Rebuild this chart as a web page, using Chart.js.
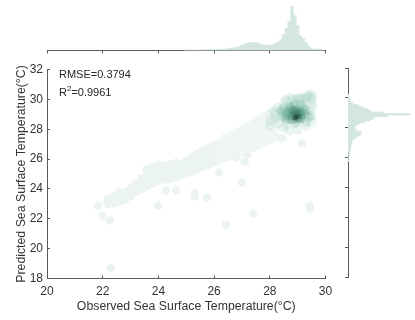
<!DOCTYPE html>
<html>
<head>
<meta charset="utf-8">
<style>
  html, body { margin: 0; padding: 0; background: #fff; }
  canvas { position: absolute; }
  .note { position: absolute; left: 59px; font: 11px "Liberation Sans", sans-serif; color: #262626; white-space: nowrap; }
  .note sup { font-size: 8px; line-height: 0; }
</style>
<script src="https://cdn.jsdelivr.net/npm/chart.js@4"></script>
</head>
<body>
<canvas id="top-hist" width="415" height="62" style="left:0;top:0"></canvas>
<canvas id="main" width="415" height="320" style="left:0;top:0"></canvas>
<canvas id="right-hist" width="75" height="320" style="left:340px;top:0"></canvas>
<div class="note" style="top:68px">RMSE=0.3794</div>
<div class="note" style="top:86px">R<sup>2</sup>=0.9961</div>
<script>
const xTicks = [20, 22, 24, 26, 28, 30];
const yTicks = [18, 20, 22, 24, 26, 28, 30, 32];

// band of pale points, one column per x
const bandX = [22.2, 22.4, 22.6, 22.8, 23.0, 23.2, 23.4, 23.6, 23.8, 24.0, 24.2, 24.4, 24.6, 24.8, 25.0, 25.2, 25.4, 25.6, 25.8, 26.0, 26.2, 26.4, 26.6, 26.8, 27.0, 27.2, 27.4, 27.6, 27.8, 28.0, 28.2];
const bandTop = [23.3, 23.5, 23.75, 23.75, 24.0, 24.3, 24.7, 25.3, 25.45, 25.55, 25.55, 25.6, 25.7, 25.65, 25.85, 26.1, 26.3, 26.55, 26.7, 26.9, 27.05, 27.4, 27.55, 27.75, 27.95, 28.15, 28.35, 28.6, 28.85, 29.05, 29.2];
const bandUpper = [23.2, 23.35, 23.55, 23.6, 23.85, 24.15, 24.5, 24.95, 25.1, 25.2, 25.25, 25.3, 25.4, 25.4, 25.6, 25.8, 26.0, 26.2, 26.35, 26.55, 26.7, 27.0, 27.1, 27.3, 27.5, 27.7, 27.85, 28.1, 28.3, 28.5, 28.7];
const bandLower = [23.1, 23.2, 23.35, 23.45, 23.7, 24.0, 24.25, 24.6, 24.75, 24.9, 24.95, 25.0, 25.1, 25.15, 25.35, 25.5, 25.7, 25.85, 26.0, 26.2, 26.35, 26.55, 26.65, 26.85, 27.0, 27.2, 27.35, 27.55, 27.75, 27.95, 28.15];
const bandBottom = [23.0, 23.05, 23.15, 23.3, 23.55, 23.85, 24.0, 24.2, 24.4, 24.55, 24.65, 24.7, 24.8, 24.95, 25.1, 25.2, 25.35, 25.5, 25.65, 25.8, 25.95, 26.1, 26.2, 26.35, 26.5, 26.65, 26.8, 26.95, 27.15, 27.3, 27.5];

// stray points away from the band
const strayX = [21.83, 22.0, 22.26, 22.3, 23.99, 24.27, 24.63, 25.3, 25.31, 25.74, 26.18, 27.0, 27.1, 27.4, 26.43, 29.44, 29.44, 29.15, 28.44, 27.2, 26.8];
const strayY = [22.89, 22.2, 21.88, 18.67, 22.89, 23.89, 23.89, 23.7, 23.5, 23.43, 25.1, 24.43, 25.84, 22.35, 21.6, 22.89, 22.69, 27.04, 27.38, 26.3, 26.1];

// density tiers around the core
const lightX = [28.6, 28.8, 29.0, 29.2, 29.4, 29.5, 29.5, 29.3, 29.1, 28.9, 28.7, 28.4, 28.2, 28.2, 28.3, 28.5, 28.7, 29.0, 29.3, 29.5, 29.4, 29.2, 28.6, 28.4, 28.9, 29.3, 29.1, 28.5, 28.3, 28.1, 28.0, 28.0, 29.55, 29.45, 29.35, 29.55, 28.75, 28.55, 29.25, 29.05];
const lightY = [29.9, 30.0, 30.0, 30.1, 30.2, 30.0, 29.7, 29.8, 29.7, 29.6, 29.5, 29.3, 29.0, 28.7, 28.4, 28.1, 27.9, 27.95, 28.2, 28.5, 29.2, 29.5, 28.3, 28.8, 30.0, 30.1, 30.05, 29.6, 29.5, 29.2, 28.6, 28.2, 30.2, 30.35, 30.25, 29.5, 30.1, 30.0, 29.95, 30.15];
const midX = [28.4, 28.5, 28.5, 28.6, 28.6, 28.7, 28.7, 28.8, 28.8, 28.9, 28.9, 29.0, 29.0, 29.1, 29.1, 29.2, 29.2, 29.3, 29.3, 29.4, 29.5, 28.8, 29.0, 29.1, 28.9, 29.0, 28.7, 28.6, 28.8, 29.1, 29.2, 28.9, 29.0, 28.7, 29.3, 28.5, 29.0, 28.9, 29.1, 28.8, 28.75, 28.85, 28.95, 29.05, 29.15, 29.25, 28.65, 28.55];
const midY = [29.2, 29.4, 28.9, 29.2, 28.6, 29.5, 28.9, 29.3, 28.6, 29.7, 28.9, 29.4, 28.5, 29.1, 28.7, 29.4, 28.8, 29.0, 28.5, 28.8, 28.9, 29.0, 29.2, 28.9, 28.4, 28.8, 29.2, 28.9, 29.5, 29.6, 29.1, 29.1, 29.0, 28.7, 29.3, 29.1, 28.7, 28.7, 29.2, 28.9, 29.4, 29.25, 29.15, 29.05, 28.95, 29.2, 29.05, 28.75];
const darkX = [28.8, 28.9, 28.9, 29.0, 29.0, 29.1, 29.1, 28.8, 29.0, 28.9, 29.0, 28.8];
const darkY = [29.2, 29.3, 28.9, 29.1, 28.8, 29.0, 28.7, 28.9, 28.85, 29.1, 29.0, 28.7];
const coreX = [28.95, 29.0, 28.9];
const coreY = [28.8, 28.85, 28.75];

// marginal histograms, bin centres and counts read in axis pixels
const topBins = [25.0, 25.1, 25.2, 25.3, 25.4, 25.5, 25.6, 25.7, 25.8, 25.9, 26.0, 26.1, 26.2, 26.3, 26.4, 26.5, 26.6, 26.7, 26.8, 26.9, 27.0, 27.1, 27.2, 27.3, 27.4, 27.5, 27.6, 27.7, 27.8, 27.9, 28.0, 28.1, 28.2, 28.3, 28.4, 28.5, 28.6, 28.7, 28.8, 28.9, 29.0, 29.1, 29.2, 29.3, 29.4, 29.5, 29.6, 29.7, 29.8, 29.9];
const topCounts = [0.5, 0.5, 0.5, 0.5, 0.5, 0.5, 1, 1, 1, 1, 1, 1, 1, 1.5, 1.5, 2, 2.5, 2.5, 3.5, 4, 5, 6, 7.5, 8, 8, 8, 7, 6, 5.5, 5.5, 5.5, 6, 7, 8.5, 11, 16, 22, 29, 44, 35, 25, 15, 12, 8, 4, 2, 1.5, 1.5, 1.5, 0.5];
const rightBins = [30.2, 30.1, 30.0, 29.9, 29.8, 29.7, 29.6, 29.5, 29.4, 29.3, 29.2, 29.1, 29.0, 28.9, 28.8, 28.7, 28.6, 28.5, 28.4, 28.3, 28.2, 28.1, 28.0, 27.9, 27.8, 27.7, 27.6, 27.5, 27.4, 27.3, 27.2, 27.1, 27.0, 26.9, 26.8, 26.7, 26.6, 26.5, 26.4, 26.2, 26.0, 25.8];
const rightCounts = [0.5, 1, 1.5, 2, 2.5, 3, 5, 10, 13, 17, 20, 23, 35, 62, 40, 27, 25, 22, 17, 12, 9, 7, 7, 7, 9, 13, 13, 12, 9, 7, 5, 4, 4, 3, 3, 3, 2.5, 2.5, 2, 2, 1, 1];

const textColor = "#333333";
const axisColor = "#5a5a5a";
const font = "'Liberation Sans', Arial, sans-serif";

function pairs(xs, ys) {
  return xs.map((x, i) => ({ x: x, y: ys[i] }));
}

function layer(data, color, radius) {
  return { data: data, pointBackgroundColor: color, pointBorderWidth: 0, pointRadius: radius, pointHoverRadius: radius };
}

const bandPoints = [bandTop, bandUpper, bandLower, bandBottom].flatMap((col) => pairs(bandX, col));

// main scatter, first dataset ends up on top
new Chart(document.getElementById("main"), {
  type: "scatter",
  data: {
    datasets: [
      layer(pairs(coreX, coreY), "rgba(25,50,45,0.3)", 2.5),
      layer(pairs(darkX, darkY), "rgba(45,95,80,0.12)", 4.8),
      layer(pairs(midX, midY), "rgba(85,160,132,0.17)", 4.8),
      layer(pairs(lightX, lightY), "rgba(170,212,196,0.24)", 4.8),
      layer(pairs(strayX, strayY), "#ecf4f1", 4.2),
      layer(bandPoints.filter((p) => p.x > 26), "#eff6f3", 4.6),
      layer(bandPoints.filter((p) => p.x <= 26), "#ecf4f1", 4.6),
    ],
  },
  options: {
    responsive: false,
    animation: false,
    layout: { padding: { left: 0, top: 69.5, right: 89.5, bottom: 0 } },
    plugins: { legend: { display: false }, tooltip: { enabled: false } },
    scales: {
      x: {
        type: "linear",
        min: 20,
        max: 30,
        afterFit: (s) => { s.height = 41.5; },
        afterBuildTicks: (s) => { s.ticks = xTicks.map((v) => ({ value: v })); },
        border: { color: axisColor },
        grid: { drawOnChartArea: false, tickLength: -3, tickColor: axisColor },
        ticks: { color: textColor, padding: 9, maxRotation: 0, font: { family: font, size: 12 } },
        title: { display: true, text: "Observed Sea Surface Temperature(°C)", color: textColor, padding: { top: 0, bottom: 6 }, font: { family: font, size: 12.3 } },
      },
      y: {
        type: "linear",
        min: 18,
        max: 32,
        afterFit: (s) => { s.width = 47; },
        afterBuildTicks: (s) => { s.ticks = yTicks.map((v) => ({ value: v })); },
        border: { color: axisColor },
        grid: { drawOnChartArea: false, tickLength: -3, tickColor: axisColor },
        ticks: { color: textColor, padding: 7, font: { family: font, size: 12 } },
        title: { display: true, text: "Predicted Sea Surface Temperature(°C)", color: textColor, padding: { top: 14, bottom: 0 }, font: { family: font, size: 12.3 } },
      },
    },
  },
});

// top histogram on the same x range
new Chart(document.getElementById("top-hist"), {
  type: "bar",
  data: {
    datasets: [{ data: pairs(topBins, topCounts), backgroundColor: "#d4e7df", barThickness: 2.8 }],
  },
  options: {
    responsive: false,
    animation: false,
    layout: { padding: { left: 47, top: 6, right: 89.5, bottom: 0 } },
    plugins: { legend: { display: false }, tooltip: { enabled: false } },
    scales: {
      x: {
        type: "linear",
        offset: false,
        min: 20,
        max: 30,
        afterFit: (s) => { s.height = 11.5; },
        afterBuildTicks: (s) => { s.ticks = xTicks.map((v) => ({ value: v })); },
        border: { color: axisColor },
        grid: { drawOnChartArea: false, offset: false, tickLength: 3, tickColor: axisColor },
        ticks: { display: false },
      },
      y: { display: false, min: 0, max: 44.5 },
    },
  },
});

// right histogram on the same y range
new Chart(document.getElementById("right-hist"), {
  type: "bar",
  data: {
    datasets: [{ data: rightBins.map((v, i) => ({ x: rightCounts[i], y: v })), backgroundColor: "#d4e7df", barThickness: 1.6 }],
  },
  options: {
    responsive: false,
    animation: false,
    indexAxis: "y",
    layout: { padding: { left: 0, top: 68, right: 0, bottom: 43 } },
    plugins: { legend: { display: false }, tooltip: { enabled: false } },
    scales: {
      x: { display: false, min: 0, max: 67 },
      y: {
        type: "linear",
        offset: false,
        min: 18,
        max: 32,
        afterFit: (s) => { s.width = 8; },
        afterBuildTicks: (s) => { s.ticks = yTicks.map((v) => ({ value: v })); },
        border: { color: axisColor },
        grid: { drawOnChartArea: false, offset: false, tickLength: 3, tickColor: axisColor },
        ticks: { display: false },
      },
    },
  },
});
</script>
</body>
</html>
